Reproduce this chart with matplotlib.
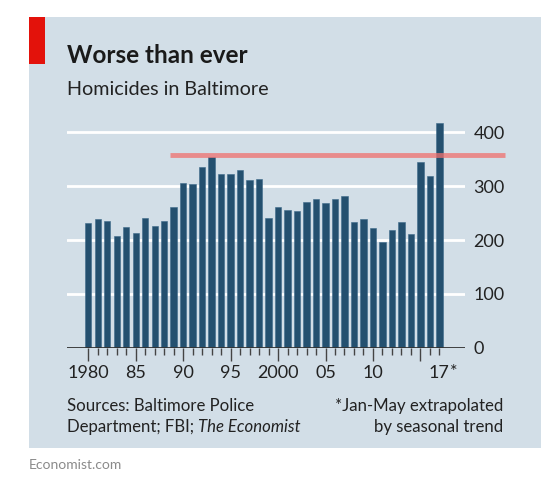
import numpy as np
import matplotlib.pyplot as plt
from matplotlib.patches import Rectangle

plt.rcParams['font.family'] = ['Lato', 'DejaVu Sans']

# Homicides in Baltimore, 1980-2017 (2017 extrapolated)
years = list(range(1980, 2018))
homicides = [231, 238, 235, 207, 224, 213, 241, 226, 235, 262,
             306, 304, 335, 353, 322, 322, 330, 312, 313, 240,
             261, 256, 253, 270, 276, 269, 276, 281, 234, 238,
             223, 197, 219, 233, 211, 344, 318, 416]
previous_high = 358
year_labels = ['1980', '85', '90', '95', '2000', '05', '10', '17']
year_label_pos = [1980, 1985, 1990, 1995, 2000, 2005, 2010, 2017]
y_ticks = [0, 100, 200, 300, 400]

bg = '#d2dee7'
bar_col = '#24506f'
text_col = '#222222'

W, H = 560, 486
fig = plt.figure(figsize=(W / 100, H / 100), dpi=100)
fig.patch.set_facecolor('white')

def fx(px):
    return px / W

def fy(py):
    return 1 - py / H

# background panel and red tag
fig.patches.append(Rectangle((fx(29), fy(448)), fx(541) - fx(29), fy(17) - fy(448),
                             transform=fig.transFigure, facecolor=bg, edgecolor='none', zorder=-2))
fig.patches.append(Rectangle((fx(29), fy(64)), fx(45) - fx(29), fy(17) - fy(64),
                             transform=fig.transFigure, facecolor='#e3120b', edgecolor='none', zorder=-1))

ax = fig.add_axes([fx(67), fy(348), fx(465) - fx(67), fy(110.4) - fy(348)])
ax.set_zorder(2)
ax.set_facecolor('none')
ax.set_xlim(1977.76, 2019.7)
ax.set_ylim(0, 440)

ax.bar(years, homicides, width=0.67, color=bar_col, edgecolor='#3d6a8a', linewidth=0.4, zorder=3)

for v in y_ticks[1:]:
    ax.axhline(v, color='white', linewidth=2, zorder=1)
ax.axhline(0, color='#333333', linewidth=1.3, zorder=4)

# previous record line, semi-transparent over the bars
ax.plot([1988.65, 2023.9], [previous_high, previous_high], color='#f0706e',
        linewidth=3.5, solid_capstyle='butt', clip_on=False, zorder=5, alpha=0.75)

for s in ax.spines.values():
    s.set_visible(False)

ax.set_yticks(y_ticks)
ax.yaxis.tick_right()
ax.tick_params(axis='y', length=0, pad=6, labelsize=13, labelcolor=text_col)

ax.set_xticks(range(1980, 2016, 5))
ax.set_xticks(years, minor=True)
ax.set_xticklabels([])
ax.tick_params(axis='x', which='major', length=9, width=1, color='#444444')
ax.tick_params(axis='x', which='minor', length=5, width=1, color='#444444')

for pos, lab in zip(year_label_pos, year_labels):
    ax.text(pos, -32, lab, ha='center', va='top', fontsize=13, color=text_col)
ax.text(2018.1, -30, '*', ha='left', va='top', fontsize=13, color=text_col)

fig.text(fx(67), fy(63), 'Worse than ever', fontsize=17.5, fontweight='bold',
         color='#1a1a1a', ha='left', va='baseline')
fig.text(fx(67), fy(95), 'Homicides in Baltimore', fontsize=14.2, color=text_col,
         ha='left', va='baseline')

fs = 12.1
fig.text(fx(67), fy(411), 'Sources: Baltimore Police', fontsize=fs, color=text_col,
         ha='left', va='baseline')
t = fig.text(fx(67), fy(432), 'Department; FBI; ', fontsize=fs, color=text_col,
             ha='left', va='baseline')
r = fig.canvas.get_renderer()
bb = t.get_window_extent(renderer=r)
fig.text(bb.x1 / W, fy(432), 'The Economist', fontsize=fs, color=text_col,
         style='italic', ha='left', va='baseline')
fig.text(fx(503), fy(411), '*Jan-May extrapolated', fontsize=fs, color=text_col,
         ha='right', va='baseline')
fig.text(fx(503), fy(432), 'by seasonal trend', fontsize=fs, color=text_col,
         ha='right', va='baseline')

fig.text(fx(29), fy(469), 'Economist.com', fontsize=10, color='#8a8a8a',
         ha='left', va='baseline')

fig.savefig('out.png', dpi=100, facecolor='white')
